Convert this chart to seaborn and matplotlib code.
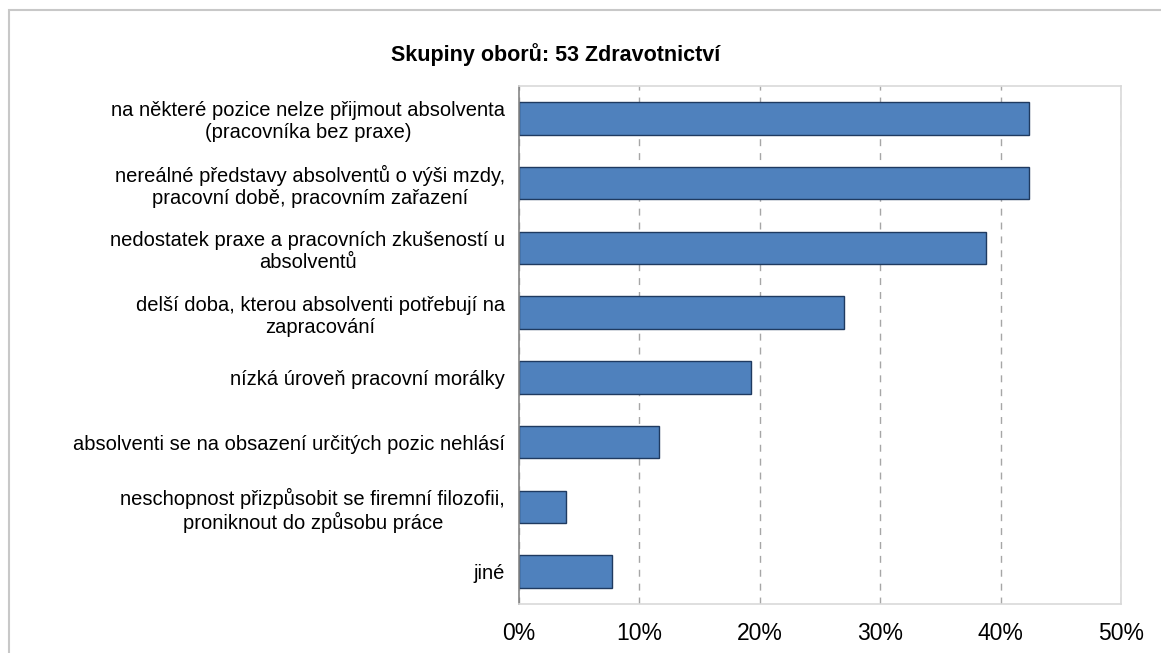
import matplotlib
matplotlib.use("Agg")
import matplotlib.pyplot as plt
import seaborn as sns
import pandas as pd
from matplotlib.ticker import PercentFormatter
from matplotlib.patches import Rectangle

categories = [
    "na některé pozice nelze přijmout absolventa\n(pracovníka bez praxe)",
    "nereálné představy absolventů o výši mzdy,\npracovní době, pracovním zařazení",
    "nedostatek praxe a pracovních zkušeností u\nabsolventů",
    "delší doba, kterou absolventi potřebují na\nzapracování",
    "nízká úroveň pracovní morálky",
    "absolventi se na obsazení určitých pozic nehlásí",
    "neschopnost přizpůsobit se firemní filozofii,\nproniknout do způsobu práce",
    "jiné",
]
values = [42.4, 42.4, 38.8, 27.0, 19.3, 11.6, 3.9, 7.7]
xticks = [0, 10, 20, 30, 40, 50]
title = "Skupiny oborů: 53 Zdravotnictví"

df = pd.DataFrame({"cat": categories, "val": values})

sns.set_theme(style="white")
plt.rcParams["font.family"] = ["Liberation Sans", "DejaVu Sans"]
plt.rcParams["text.color"] = "#000000"

fig = plt.figure(figsize=(11.61, 6.53), dpi=100)
ax = fig.add_axes([519 / 1161, 1 - 604 / 653, (1121 - 519) / 1161, (604 - 86) / 653])

sns.barplot(data=df, x="val", y="cat", orient="h", color="#4F81BD", saturation=1,
            width=0.5, edgecolor="#1F3A60", linewidth=1.0, ax=ax)

ax.set_xlim(0, 50)
ax.set_xticks(xticks)
ax.xaxis.set_major_formatter(PercentFormatter(decimals=0))
ax.grid(axis="x", linestyle=(0, (5, 5)), color="#A6A6A6", linewidth=1.0)
ax.set_axisbelow(True)
ax.set_xlabel("")
ax.set_ylabel("")
for s in ["top", "right", "bottom"]:
    ax.spines[s].set_color("#D9D9D9")
    ax.spines[s].set_linewidth(1.2)
ax.spines["left"].set_color("#868686")
ax.spines["left"].set_linewidth(1.2)
ax.tick_params(axis="x", labelsize=16.5, colors="#000000", pad=13, length=0)
ax.tick_params(axis="y", labelsize=14.5, colors="#000000", pad=10, length=0)
for lbl in ax.get_yticklabels():
    lbl.set_multialignment("center")
    lbl.set_linespacing(1.2)

fig.text(556 / 1161, 1 - 55 / 653, title, ha="center", va="center",
         fontsize=15.5, fontweight="bold", color="#000000")

fig.patches.append(Rectangle((9 / 1161, -0.05), 1.2, 1 - 10 / 653 + 0.05,
                             transform=fig.transFigure, fill=False,
                             edgecolor="#C8C8C8", linewidth=1.5))

fig.savefig("out.png", dpi=100)
